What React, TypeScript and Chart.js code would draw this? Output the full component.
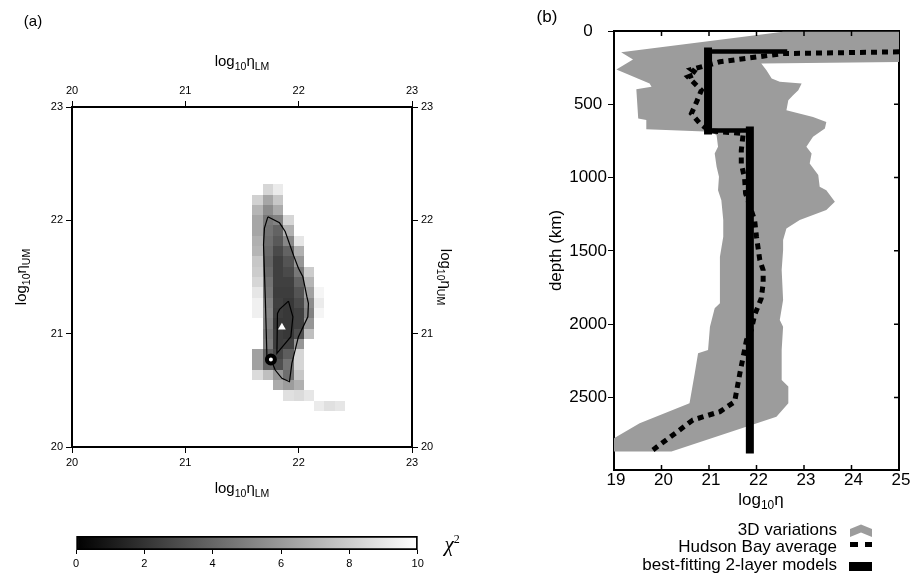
import React, { useEffect, useRef } from 'react';
import { Chart, registerables } from 'chart.js';

Chart.register(...registerables);

const SANS = '"Liberation Sans", Arial, Helvetica, sans-serif';
const SERIF = '"Liberation Serif", "DejaVu Serif", serif';

/* ---------------- panel (a): chi-square misfit map ---------------- */
const viscTicks = [20, 21, 22, 23];
const gridStep = 3 / 33; // spacing of the model grid in log10 units
const heatTopRow = 25; // grid row index of the first row below (UM axis)
const heatFirstCol = 18; // grid column index of the first column (LM axis)
const chi2Grid: (number | null)[][] = [
  [null, 8.4, 9.2],
  [8.2, 6.5, 7.8],
  [7.1, 5.5, 6.7],
  [6.5, 4.7, 5.1, 8.4],
  [6.5, 4.5, 3.9, 6.9],
  [6.9, 4.3, 3.5, 5.3, 9.0],
  [7.1, 4.1, 2.9, 3.9, 6.9],
  [7.8, 3.9, 2.5, 3.3, 5.9],
  [8.0, 4.1, 2.5, 2.9, 4.7, 8.0],
  [8.4, 4.5, 2.5, 2.5, 3.9, 7.1],
  [9.0, 4.7, 2.4, 2.4, 3.3, 6.3, 9.6],
  [9.4, 5.1, 2.5, 2.2, 2.9, 5.5, 9.2],
  [9.4, 5.3, 2.4, 2.2, 2.5, 5.1, 9.6],
  [null, 5.1, 2.2, 2.2, 2.5, 5.9],
  [null, 4.7, 2.4, 2.2, 3.1, 7.5],
  [null, 4.9, 2.4, 2.5, 5.9],
  [6.3, 3.7, 2.7, 3.7, 8.4],
  [6.3, 3.9, 3.1, 4.5, 8.4],
  [8.6, 7.5, 5.9, 4.3, 7.8],
  [null, null, 6.7, 6.1, 6.9],
  [null, null, null, 8.8, 8.6, 9.0],
  [null, null, null, null, null, null, 9.2, 8.8, 9.0],
];
const outerContourLM = [21.728, 21.831, 21.881, 21.954, 21.998, 22.037, 22.072, 22.086, 22.081, 21.998, 21.940, 21.919, 21.852, 21.793, 21.755, 21.720, 21.706, 21.690, 21.698, 21.728];
const outerContourUM = [22.031, 21.978, 21.902, 21.693, 21.578, 21.502, 21.329, 21.267, 21.149, 20.973, 20.738, 20.576, 20.606, 20.679, 20.773, 20.796, 21.300, 21.784, 21.931, 22.031];
const innerContourLM = [21.910, 21.949, 21.931, 21.808, 21.813, 21.831, 21.910];
const innerContourUM = [21.287, 21.149, 20.973, 20.826, 21.179, 21.214, 21.287];
const bestModelLM = [21.755];
const bestModelUM = [20.773];
const secondModelLM = [21.852];
const secondModelUM = [21.056];
const chi2Ticks = [0, 2, 4, 6, 8, 10];

/* ---------------- panel (b): viscosity profiles ---------------- */
const etaTicks = [19, 20, 21, 22, 23, 24, 25];
const depthTicks = [0, 500, 1000, 1500, 2000, 2500];
const variationEta = [22.56, 19.15, 19.40, 19.05, 19.75, 19.79, 19.47, 19.51, 19.68, 19.68, 21.05, 21.16, 21.19, 21.12, 21.16, 21.21, 21.19, 21.26, 21.30, 21.30, 21.23, 21.23, 21.12, 21.02, 20.98, 20.77, 20.70, 20.59, 19.54, 19.00, 19.00, 20.21, 22.42, 22.67, 22.67, 22.53, 22.53, 22.56, 22.49, 22.56, 22.53, 22.56, 22.56, 22.63, 22.91, 23.47, 23.65, 23.47, 23.33, 23.30, 23.12, 23.16, 23.05, 23.19, 23.44, 23.47, 23.19, 22.63, 22.67, 22.77, 22.88, 22.95, 22.49, 22.32, 22.21, 22.10, 25.00, 25.00];
const variationDepth = [5, 145, 195, 263, 358, 381, 397, 597, 608, 670, 688, 711, 790, 836, 926, 995, 1086, 1154, 1290, 1404, 1540, 1858, 1892, 2017, 2176, 2199, 2335, 2540, 2676, 2779, 2869, 2869, 2631, 2540, 2426, 2381, 2176, 2017, 1972, 1835, 1631, 1495, 1426, 1347, 1290, 1222, 1165, 1086, 1063, 983, 904, 836, 790, 722, 665, 620, 586, 540, 472, 438, 404, 358, 347, 324, 267, 222, 211, 5];
const hudsonEta = [25.0, 22.56, 21.23, 20.63, 20.74, 20.56, 20.84, 20.74, 20.63, 20.81, 21.0, 21.72, 21.68, 21.68, 21.75, 21.77, 21.96, 22.00, 22.07, 22.14, 22.14, 22.10, 21.96, 21.89, 21.79, 21.72, 21.65, 21.54, 21.23, 20.66, 20.10, 19.82];
const hudsonDepth = [142, 154, 210, 263, 290, 313, 404, 483, 563, 631, 680, 700, 813, 904, 1006, 1108, 1290, 1404, 1563, 1631, 1722, 1824, 1938, 2040, 2108, 2222, 2335, 2529, 2597, 2654, 2790, 2858];
const twoLayerEta = [22.6, 20.98, 20.98, 21.86, 21.86];
const twoLayerDepth = [140, 140, 679, 679, 2855];
const legendLabels = ['3D variations', 'Hudson Bay average', 'best-fitting 2-layer models'];

/* ---------------- helpers ---------------- */
const zip = (xs: number[], ys: number[]) => xs.map((x, i) => ({ x, y: ys[i] }));
const grayFor = (v: number) => {
  const g = Math.round((Math.max(0, Math.min(10, v)) / 10) * 255);
  return `rgb(${g},${g},${g})`;
};
const heatCells: { x: number; y: number; v: number }[] = [];
chi2Grid.forEach((row, r) =>
  row.forEach((v, c) => {
    if (v != null) heatCells.push({ x: 20 + (heatFirstCol + c) * gridStep, y: 20 + (heatTopRow - r) * gridStep, v });
  })
);

const heatmapPlugin = {
  id: 'heatmapCells',
  beforeDatasetsDraw(chart: any) {
    const { ctx, chartArea: a, scales } = chart;
    const xs = scales.x;
    const ys = scales.y;
    const cells = chart.data.datasets[0].data;
    ctx.save();
    ctx.beginPath();
    ctx.rect(a.left, a.top, a.right - a.left, a.bottom - a.top);
    ctx.clip();
    for (const c of cells) {
      const x0 = Math.round(xs.getPixelForValue(c.x - gridStep / 2));
      const x1 = Math.round(xs.getPixelForValue(c.x + gridStep / 2));
      const y0 = Math.round(ys.getPixelForValue(c.y + gridStep / 2));
      const y1 = Math.round(ys.getPixelForValue(c.y - gridStep / 2));
      ctx.fillStyle = grayFor(c.v);
      ctx.fillRect(x0, y0, x1 - x0, y1 - y0);
    }
    ctx.restore();
  },
};

const inwardTicksPlugin = {
  id: 'inwardTicks',
  afterDraw(chart: any) {
    const { ctx, chartArea: a, scales } = chart;
    const x = scales.x;
    const y = scales.y;
    ctx.save();
    ctx.strokeStyle = '#000';
    ctx.lineWidth = 1.5;
    ctx.beginPath();
    for (const v of etaTicks) {
      if (v <= 19 || v >= 25) continue;
      const px = x.getPixelForValue(v);
      ctx.moveTo(px, a.top);
      ctx.lineTo(px, a.top + 5);
      ctx.moveTo(px, a.bottom);
      ctx.lineTo(px, a.bottom - 5);
    }
    for (const v of depthTicks) {
      if (v === 0) continue;
      const py = y.getPixelForValue(v);
      ctx.moveTo(a.right, py);
      ctx.lineTo(a.right - 5, py);
    }
    ctx.stroke();
    ctx.restore();
  },
};

const axisA = (axis: 'x' | 'y', position: string, size: number) => ({
  type: 'linear',
  axis,
  position,
  min: 20,
  max: 23,
  afterBuildTicks: (s: any) => {
    s.ticks = viscTicks.map((v) => ({ value: v }));
  },
  ticks: { font: { family: SANS, size: 11 }, color: '#000', padding: 3, maxRotation: 0, callback: (v: any) => String(v) },
  grid: { drawOnChartArea: false, drawTicks: true, tickLength: 6, tickColor: '#000', tickWidth: 1 },
  border: { display: true, color: '#000', width: 2 },
  afterFit: (s: any) => {
    if (axis === 'x') s.height = size;
    else s.width = size;
  },
});

function makeConfigA(): any {
  return {
    type: 'line',
    data: {
      datasets: [
        { label: 'chi2', data: heatCells, showLine: false, pointRadius: 0, pointHoverRadius: 0, order: 5 },
        { label: 'outer', data: zip(outerContourLM, outerContourUM), borderColor: '#000', borderWidth: 1.2, pointRadius: 0, fill: false, order: 4 },
        { label: 'inner', data: zip(innerContourLM, innerContourUM), borderColor: '#000', borderWidth: 1.2, pointRadius: 0, fill: false, order: 3 },
        {
          label: 'best',
          data: zip(bestModelLM, bestModelUM),
          showLine: false,
          pointRadius: 4,
          pointBorderWidth: 4,
          pointBackgroundColor: '#fff',
          pointBorderColor: '#000',
          order: 1,
        },
        {
          label: 'second',
          data: zip(secondModelLM, secondModelUM),
          showLine: false,
          pointStyle: 'triangle',
          pointRadius: 4.5,
          pointBorderWidth: 0,
          pointBackgroundColor: '#fff',
          pointBorderColor: '#fff',
          order: 0,
        },
      ],
    },
    options: {
      responsive: false,
      animation: false,
      events: [],
      layout: { padding: 0 },
      plugins: { legend: { display: false }, tooltip: { enabled: false } },
      scales: {
        x: axisA('x', 'bottom', 33),
        x2: axisA('x', 'top', 107),
        y: axisA('y', 'left', 72),
        y2: axisA('y', 'right', 48),
      },
    },
    plugins: [heatmapPlugin],
  };
}

function makeConfigC(): any {
  return {
    type: 'bar',
    data: {
      labels: ['χ²'],
      datasets: [
        {
          data: [[0, 10]],
          backgroundColor: (c: any) => {
            const ch = c.chart;
            if (!ch.chartArea) return '#808080';
            const xs = ch.scales.x;
            const g = ch.ctx.createLinearGradient(xs.getPixelForValue(0), 0, xs.getPixelForValue(10), 0);
            g.addColorStop(0, '#000');
            g.addColorStop(1, '#fff');
            return g;
          },
          borderColor: '#000',
          borderWidth: 2,
          borderSkipped: false,
          barPercentage: 1,
          categoryPercentage: 1,
        },
      ],
    },
    options: {
      indexAxis: 'y',
      responsive: false,
      animation: false,
      events: [],
      layout: { padding: { left: 76, right: 42.3, top: 16, bottom: 0 } },
      plugins: { legend: { display: false }, tooltip: { enabled: false } },
      scales: {
        x: {
          type: 'linear',
          min: 0,
          max: 10,
          afterBuildTicks: (s: any) => {
            s.ticks = chi2Ticks.map((v) => ({ value: v }));
          },
          ticks: { font: { family: SANS, size: 11 }, color: '#000', padding: 3, maxRotation: 0, callback: (v: any) => String(v) },
          grid: { drawOnChartArea: false, drawTicks: true, tickLength: 4, tickColor: '#000', tickWidth: 1 },
          border: { display: false },
          afterFit: (s: any) => {
            s.height = 26;
          },
        },
        y: { display: false },
      },
    },
  };
}

function makeConfigB(): any {
  const border = { display: true, color: '#000', width: 2 };
  return {
    type: 'line',
    data: {
      datasets: [
        {
          label: legendLabels[0],
          data: zip(variationEta, variationDepth),
          backgroundColor: '#9c9c9c',
          borderColor: 'rgba(0,0,0,0)',
          borderWidth: 0,
          fill: 'shape',
          pointRadius: 0,
          order: 3,
        },
        {
          label: legendLabels[1],
          data: zip(hudsonEta, hudsonDepth),
          borderColor: '#000',
          borderWidth: 5,
          borderDash: [6, 5],
          pointRadius: 0,
          fill: false,
          order: 1,
        },
        {
          label: legendLabels[2],
          data: zip(twoLayerEta, twoLayerDepth),
          borderColor: '#000',
          borderWidth: 6,
          borderCapStyle: 'square',
          pointRadius: 0,
          fill: false,
          order: 2,
          segment: { borderWidth: (c: any) => (c.p0.parsed.x === c.p1.parsed.x ? 8 : 4.5) },
        },
      ],
    },
    options: {
      responsive: false,
      animation: false,
      events: [],
      layout: { padding: 0 },
      plugins: { legend: { display: false }, tooltip: { enabled: false } },
      scales: {
        x: {
          type: 'linear',
          position: 'bottom',
          min: 19,
          max: 25,
          afterBuildTicks: (s: any) => {
            s.ticks = etaTicks.map((v) => ({ value: v }));
          },
          ticks: { font: { family: SANS, size: 17 }, color: '#000', padding: 0, labelOffset: 2, maxRotation: 0, callback: (v: any) => String(v) },
          grid: { drawOnChartArea: false, drawTicks: false },
          border,
          afterFit: (s: any) => {
            s.height = 106;
          },
        },
        x2: {
          type: 'linear',
          axis: 'x',
          position: 'top',
          min: 19,
          max: 25,
          ticks: { display: false },
          grid: { drawOnChartArea: false, drawTicks: false },
          border,
          afterFit: (s: any) => {
            s.height = 31;
          },
        },
        y: {
          type: 'linear',
          position: 'left',
          reverse: true,
          min: 0,
          max: 2995,
          afterBuildTicks: (s: any) => {
            s.ticks = depthTicks.map((v) => ({ value: v }));
          },
          ticks: { font: { family: SANS, size: 17 }, color: '#000', padding: 1, crossAlign: 'center', callback: (v: any) => String(v) },
          grid: { drawOnChartArea: false, drawTicks: true, tickLength: 6, tickColor: '#000', tickWidth: 1 },
          border,
          title: { display: true, text: 'depth (km)', color: '#000', font: { family: SANS, size: 17 }, padding: { top: 26, bottom: 0 } },
          afterFit: (s: any) => {
            s.width = 94;
          },
        },
        y2: {
          type: 'linear',
          axis: 'y',
          position: 'right',
          reverse: true,
          min: 0,
          max: 2995,
          ticks: { display: false },
          grid: { drawOnChartArea: false, drawTicks: false },
          border,
          afterFit: (s: any) => {
            s.width = 16;
          },
        },
      },
    },
    plugins: [inwardTicksPlugin],
  };
}

/* ---------------- html text helpers ---------------- */
const Txt = ({ x, y, rot = 0, size = 15, style = {}, children }: any) => (
  <div
    style={{
      position: 'absolute',
      left: x,
      top: y,
      transform: `translate(-50%, -50%) rotate(${rot}deg)`,
      fontSize: size,
      lineHeight: 1,
      whiteSpace: 'nowrap',
      color: '#000',
      ...style,
    }}
  >
    {children}
  </div>
);

const Sub = ({ size, children }: any) => (
  <span style={{ fontSize: size, verticalAlign: `-${Math.round(size * 0.35)}px` }}>{children}</span>
);

const LogEta = ({ size, sub }: any) => (
  <span>
    log<Sub size={size * 0.7}>10</Sub>η{sub ? <Sub size={size * 0.7}>{sub}</Sub> : null}
  </span>
);

export default function App() {
  const aRef = useRef<HTMLCanvasElement>(null);
  const bRef = useRef<HTMLCanvasElement>(null);
  const cRef = useRef<HTMLCanvasElement>(null);

  useEffect(() => {
    const charts = [
      new Chart(aRef.current as HTMLCanvasElement, makeConfigA()),
      new Chart(cRef.current as HTMLCanvasElement, makeConfigC()),
      new Chart(bRef.current as HTMLCanvasElement, makeConfigB()),
    ];
    return () => charts.forEach((c) => c.destroy());
  }, []);

  return (
    <div
      style={{
        position: 'fixed',
        left: 0,
        top: 0,
        width: 915,
        height: 576,
        background: '#fff',
        fontFamily: SANS,
        overflow: 'hidden',
      }}
    >
      <canvas ref={aRef} width={460} height={480} style={{ position: 'absolute', left: 0, top: 0 }} />
      <canvas ref={cRef} width={460} height={56} style={{ position: 'absolute', left: 0, top: 520 }} />
      <canvas ref={bRef} width={395} height={576} style={{ position: 'absolute', left: 520, top: 0 }} />

      {/* panel (a) text */}
      <Txt x={33} y={20} size={15}>(a)</Txt>
      <Txt x={242} y={62} size={15}><LogEta size={15} sub="LM" /></Txt>
      <Txt x={242} y={489} size={15}><LogEta size={15} sub="LM" /></Txt>
      <Txt x={22} y={277} size={15} rot={-90}><LogEta size={15} sub="UM" /></Txt>
      <Txt x={445} y={277} size={15} rot={90}><LogEta size={15} sub="UM" /></Txt>
      <Txt x={452} y={544} size={21} style={{ fontFamily: SERIF, fontStyle: 'italic' }}>
        χ<span style={{ fontSize: 12, verticalAlign: '8px', fontStyle: 'normal' }}>2</span>
      </Txt>

      {/* panel (b) text */}
      <Txt x={547} y={16} size={17}>(b)</Txt>
      <Txt x={761} y={501} size={17}><LogEta size={17} /></Txt>

      {/* legend */}
      {legendLabels.map((t, i) => (
        <div
          key={t}
          style={{
            position: 'absolute',
            right: 915 - 837,
            top: [530, 547, 565][i] - 9,
            fontSize: 17,
            lineHeight: '18px',
            whiteSpace: 'nowrap',
            color: '#000',
          }}
        >
          {t}
        </div>
      ))}
      <svg width={30} height={56} style={{ position: 'absolute', left: 848, top: 520 }}>
        <polygon points="2,9 13,4.5 24,9 24,17 13,12.5 2,17" fill="#9c9c9c" />
        <rect x={2} y={22} width={8} height={5} fill="#000" />
        <rect x={17} y={22} width={7} height={5} fill="#000" />
        <rect x={1} y={42} width={23} height={9} fill="#000" />
      </svg>
    </div>
  );
}
